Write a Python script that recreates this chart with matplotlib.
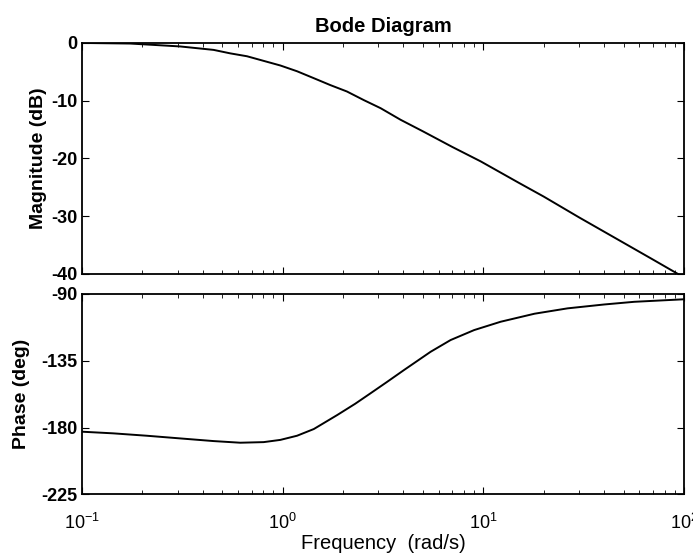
import matplotlib.pyplot as plt
from matplotlib.ticker import LogLocator, NullFormatter

plt.rcParams['font.family'] = ['Liberation Sans', 'DejaVu Sans']
plt.rcParams['mathtext.fontset'] = 'custom'
plt.rcParams['mathtext.rm'] = 'Liberation Sans'
plt.rcParams['mathtext.it'] = 'Liberation Sans'
plt.rcParams['mathtext.bf'] = 'Liberation Sans:bold'
plt.rcParams['axes.unicode_minus'] = False

# values
mag_freq = [0.1, 0.174, 0.308, 0.453, 0.548, 0.664, 0.804, 0.974, 1.18, 1.43,
            1.73, 2.09, 2.54, 3.08, 3.87, 5.0, 7.0, 9.7, 15, 20, 30, 50, 70, 100]
mag_db = [0.0, -0.1, -0.6, -1.2, -1.8, -2.3, -3.1, -3.9, -4.9, -6.1,
          -7.3, -8.4, -9.9, -11.3, -13.3, -15.3, -18.0, -20.5, -24.2, -26.6,
          -30.2, -34.6, -37.5, -40.6]

ph_freq = [0.1, 0.143, 0.21, 0.308, 0.453, 0.615, 0.804, 0.974, 1.18, 1.43,
           1.87, 2.3, 2.74, 3.3, 4.02, 5.46, 6.87, 9.0, 12.2, 18, 26.3, 40,
           56.5, 100]
ph_deg = [-182.8, -183.9, -185.5, -187.3, -189.1, -190.2, -189.8, -188.3,
          -185.5, -181.0, -171.6, -164.0, -157.0, -149.5, -141.4, -129.1,
          -121.2, -114.5, -108.9, -103.5, -99.9, -97.3, -95.5, -93.8]

mag_ticks = [0, -10, -20, -30, -40]
ph_ticks = [-90, -135, -180, -225]

fig = plt.figure(figsize=(6.93, 5.58), dpi=100)
ax1 = fig.add_axes([0.1183, 0.509, 0.8687, 0.414])
ax2 = fig.add_axes([0.1183, 0.1138, 0.8687, 0.360])

ax1.semilogx(mag_freq, mag_db, color='black', linewidth=1.4)
ax2.semilogx(ph_freq, ph_deg, color='black', linewidth=1.4)

for ax in (ax1, ax2):
    ax.set_xlim(0.1, 100)
    ax.xaxis.set_major_locator(LogLocator(base=10))
    ax.xaxis.set_minor_locator(LogLocator(base=10, subs=range(2, 10)))
    ax.xaxis.set_minor_formatter(NullFormatter())
    ax.tick_params(which='both', direction='in', top=True, right=True)
    ax.tick_params(which='major', length=5, labelsize=13)
    ax.tick_params(which='minor', length=3)
    for s in ax.spines.values():
        s.set_linewidth(1.3)

ax1.set_ylim(-40, 0)
ax1.set_yticks(mag_ticks)
ax1.tick_params(labelbottom=False)
for lab in ax1.get_yticklabels():
    lab.set_fontweight('bold')
ax1.set_ylabel('Magnitude (dB)', fontsize=14, fontweight='bold', labelpad=3)
ax1.set_title('Bode Diagram', fontsize=14.5, fontweight='bold', pad=8)

ax2.set_ylim(-225, -90)
ax2.set_yticks(ph_ticks)
for lab in ax2.get_yticklabels():
    lab.set_fontweight('bold')
ax2.tick_params(axis='x', which='major', pad=13)
ax2.set_ylabel('Phase (deg)', fontsize=14, fontweight='bold', labelpad=8)
ax2.set_xlabel('Frequency  (rad/s)', fontsize=14.5, labelpad=1)

fig.savefig('out.png', dpi=100)
